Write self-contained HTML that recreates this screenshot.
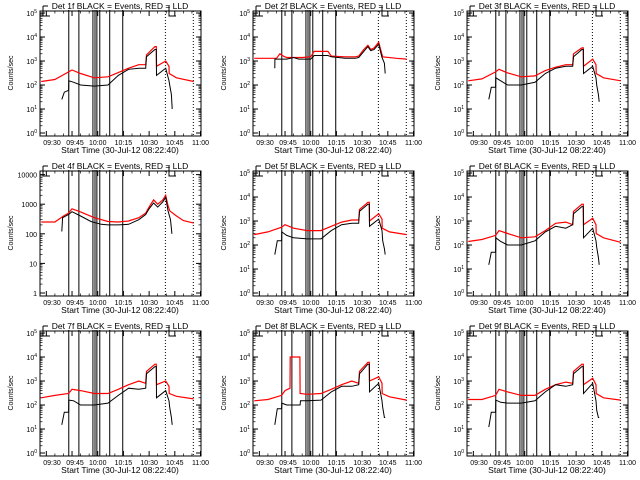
<!DOCTYPE html>
<html><head><meta charset="utf-8"><style>
html,body{margin:0;padding:0;background:#fff}
svg{display:block}
text{font-family:"Liberation Sans",sans-serif;fill:#000}
</style></head><body>
<svg id="c" width="640" height="480" viewBox="0 0 640 480" xmlns="http://www.w3.org/2000/svg"></svg>
<script>
// shared time bases (minutes after 09:00)
const TR=[27,35,43,45,50,58,66,72,78,84,88,88.5,93.4,94.2,94.3,99.7,101.6,101.7,106,116];
const TB=[39,40.5,43,43.1,46,50,58,66,72,78,84,88,88.5,93.4,94.2,94.3,99.7,101.6,102,103,103.5];
const T2R=[27,40,42,44,46,55,60,62,70,72,80,86,88,91,93.4,95,97,99.7,101.5,102,110,116];
const T2B=[39,39.1,46,50,53,58,60,62,70,72,80,86,88,91,93.4,95,97,99.7,101.5,103,103.5];
const T4R=[27,35,40,43,45,50,58,66,72,78,84,88,90,92.6,95,98,99.7,101,102,106,110,116];
const T4B=[39,39.5,43,45,50,56,62,66,72,78,84,88,90,92.6,95,98,99.7,101,102.5,103,103.3];
const T8R=[27,35,43,45,47.9,48,53.7,53.8,58,66,72,78,84,88,88.5,93.4,94.2,94.3,99.7,101.6,101.7,106,116];
const T8B=[39,40.5,43,43.1,46,50,53.8,54,58,66,72,78,84,88,88.5,93.4,94.2,94.3,99.7,101.6,102,103,103.5];
const titles=["Det 1f","Det 2f","Det 3f","Det 4f","Det 5f","Det 6f","Det 7f","Det 8f","Det 9f"];
const red1=[140,170,350,420,300,200,220,330,500,700,700,1800,4000,4000,600,1000,600,300,200,140];
const blk1=[25,50,60,150,130,100,90,100,250,450,500,500,1500,3000,3000,250,500,150,100,40,10];
const red2=[1300,1300,2000,1600,1400,1400,1500,2500,2500,1600,1500,1500,1600,3000,4500,3000,3500,6000,2000,1500,1300,1200];
const blk2=[500,1200,1200,1400,1200,1200,1200,1700,1700,1500,1300,1300,1400,2500,4000,2700,3000,5000,1500,800,300];
const red3=[150,180,350,450,320,220,240,400,550,700,700,2000,3500,3500,600,1200,700,300,200,150];
const blk3=[25,80,80,200,150,100,100,130,300,500,600,600,1500,3000,3000,300,600,200,100,40,20];
const red4=[250,250,400,500,700,550,350,260,250,270,350,500,800,1400,1000,1400,2000,900,600,400,280,230];
const blk4=[120,350,450,560,400,260,210,200,200,210,300,450,700,1100,800,1200,1700,600,300,150,100];
const red5=[270,350,550,700,500,400,400,600,900,1100,1100,3000,6000,6000,1000,2000,1200,500,350,270];
const blk5=[40,150,150,350,250,200,180,180,400,700,800,800,2500,5000,5000,600,1200,400,150,70,40];
const red6=[140,170,250,400,300,200,220,400,800,900,700,2500,5000,5000,700,1300,700,300,200,130];
const blk6=[15,50,50,200,140,100,100,150,350,600,500,700,2000,4000,4000,200,500,150,80,30,15];
const red7=[200,250,300,450,400,300,300,450,700,1000,800,2500,5000,5000,700,1000,600,300,230,180];
const blk7=[15,50,50,160,150,100,100,120,250,500,450,500,2000,4000,4000,200,400,150,80,30,15];
const red8=[150,170,250,400,500,10000,10000,300,280,300,450,700,1000,800,2500,6000,6000,1000,1500,800,300,220,160];
const blk8=[15,70,70,120,100,100,100,150,150,160,350,600,600,700,2000,5000,5000,350,800,150,80,30,30];
const red9=[170,170,250,450,350,250,250,450,700,900,800,2500,5000,5000,700,1300,700,300,200,160];
const blk9=[12,50,50,160,130,120,120,150,350,700,600,700,2000,4000,4000,300,800,150,60,30,30];
const xTickMins=[30,45,60,75,90,105,120];
const xTickLabels=["09:30","09:45","10:00","10:15","10:30","10:45","11:00"];
const eventLines=[43.1,49,57.2,58.4,59.5,61.2,67,74.6];
const dottedLines=[99.5,115.8];
const logLabels=["0","1","2","3","4","5"];
const linLabels=["1","10","100","1000","10000"];

const panels=[
 {tr:TR,tb:TB,r:red1,b:blk1},{tr:T2R,tb:T2B,r:red2,b:blk2},{tr:TR,tb:TB,r:red3,b:blk3},
 {tr:T4R,tb:T4B,r:red4,b:blk4,lin:true},{tr:TR,tb:TB,r:red5,b:blk5},{tr:TR,tb:TB,r:red6,b:blk6},
 {tr:TR,tb:TB,r:red7,b:blk7},{tr:T8R,tb:T8B,r:red8,b:blk8},{tr:TR,tb:TB,r:red9,b:blk9}];
const NS="http://www.w3.org/2000/svg";
const svg=document.getElementById('c');
function mk(tag,at,parent){const e=document.createElementNS(NS,tag);for(const k in at)e.setAttribute(k,at[k]);(parent||svg).appendChild(e);return e;}
panels.forEach((p,i)=>{
  const ox=[0,213,427][i%3], oy=[0,160,320][Math.floor(i/3)];
  const g=mk('g',{transform:`translate(${ox},${oy})`});
  
  
  const L=40,R=201,Tp=11,B=136;
  const dec=p.lin?29.6:24;
  const xs=t=>L+1.713*(t-26.3);
  const ys=v=>133-dec*Math.log10(v);
  const fr=mk('rect',{x:L,y:Tp,width:R-L,height:B-Tp,fill:'none',stroke:'#000','stroke-width':1},g);
  
  
  const nd=p.lin?5:6;
  for(let d=0;d<nd;d++){
    const y=ys(Math.pow(10,d));
    mk('line',{x1:L,y1:y,x2:L+5,y2:y,stroke:'#000'},g);
    mk('line',{x1:R,y1:y,x2:R-5,y2:y,stroke:'#000'},g);
    for(let m=2;m<10;m++){const ym=ys(m*Math.pow(10,d));if(ym<Tp)break;
      mk('line',{x1:L,y1:ym,x2:L+2.5,y2:ym,stroke:'#000','stroke-width':0.7},g);
      mk('line',{x1:R,y1:ym,x2:R-2.5,y2:ym,stroke:'#000','stroke-width':0.7},g);}
    const t=mk('text',{x:L-3,y:y+3,'font-size':7,'text-anchor':'end'},g);
    
    
    if(p.lin){t.textContent=linLabels[d];}
    else{t.textContent='10';const s=mk('tspan',{dy:-3,'font-size':5},t);s.textContent=logLabels[d];}
  }
  xTickMins.forEach((m,k)=>{
    const x=xs(m);
    mk('line',{x1:x,y1:B,x2:x,y2:B-5,stroke:'#000'},g);
    mk('line',{x1:x,y1:Tp,x2:x,y2:Tp+5,stroke:'#000'},g);
    for(let s=5;s<15;s+=5){const xm=xs(m+s);if(xm<R){mk('line',{x1:xm,y1:B,x2:xm,y2:B-2.5,stroke:'#000','stroke-width':0.7},g);mk('line',{x1:xm,y1:Tp,x2:xm,y2:Tp+2.5,stroke:'#000','stroke-width':0.7},g);}}
    let lx=x; if(k===0) lx=Math.max(x,52); if(k===1) lx=x+3;
    const t=mk('text',{x:lx,y:B+9,'font-size':7,'text-anchor':'middle'},g);
    
    
    t.textContent=xTickLabels[k];
  });
  eventLines.forEach(m=>{const x=xs(m);const l=mk('line',{x1:x,y1:Tp-1,x2:x,y2:B,stroke:'#000','stroke-width':1},g);
    
    });
  dottedLines.forEach(m=>{const x=xs(m);const l=mk('line',{x1:x,y1:Tp,x2:x,y2:B,stroke:'#000','stroke-width':1,'stroke-dasharray':'1,2'},g);
    
    });
  [[43,50],[169,176]].forEach(b=>{mk('polyline',{points:`${b[0]},6 ${b[0]},16 ${b[1]},16`,fill:'none',stroke:'#000'},g);});
  mk('line',{x1:43,y1:6,x2:48,y2:6,stroke:'#000'},g);
  const pr=p.tr.map((t,k)=>`${xs(t).toFixed(1)},${ys(p.r[k]).toFixed(1)}`).join(' ');
  const rl=mk('polyline',{points:pr,fill:'none',stroke:'#ff0000','stroke-width':1.2},g);
  
  
  const pb=p.tb.map((t,k)=>`${xs(t).toFixed(1)},${ys(p.b[k]).toFixed(1)}`).join(' ');
  const bl=mk('polyline',{points:pb,fill:'none',stroke:'#000','stroke-width':1},g);
  
  
  const tt=mk('text',{x:120,y:9,'font-size':8.5,'text-anchor':'middle'},g);
  
  
  tt.textContent=titles[i]+' BLACK = Events, RED = LLD';
  const xt=mk('text',{x:120,y:153,'font-size':8.5,'text-anchor':'middle'},g);
  
  
  xt.textContent='Start Time (30-Jul-12 08:22:40)';
  const yt=mk('text',{x:0,y:0,'font-size':7,'text-anchor':'middle',transform:'translate(13,73) rotate(-90)'},g);
  
  
  yt.textContent='Counts/sec';
});
</script>
</body></html>
